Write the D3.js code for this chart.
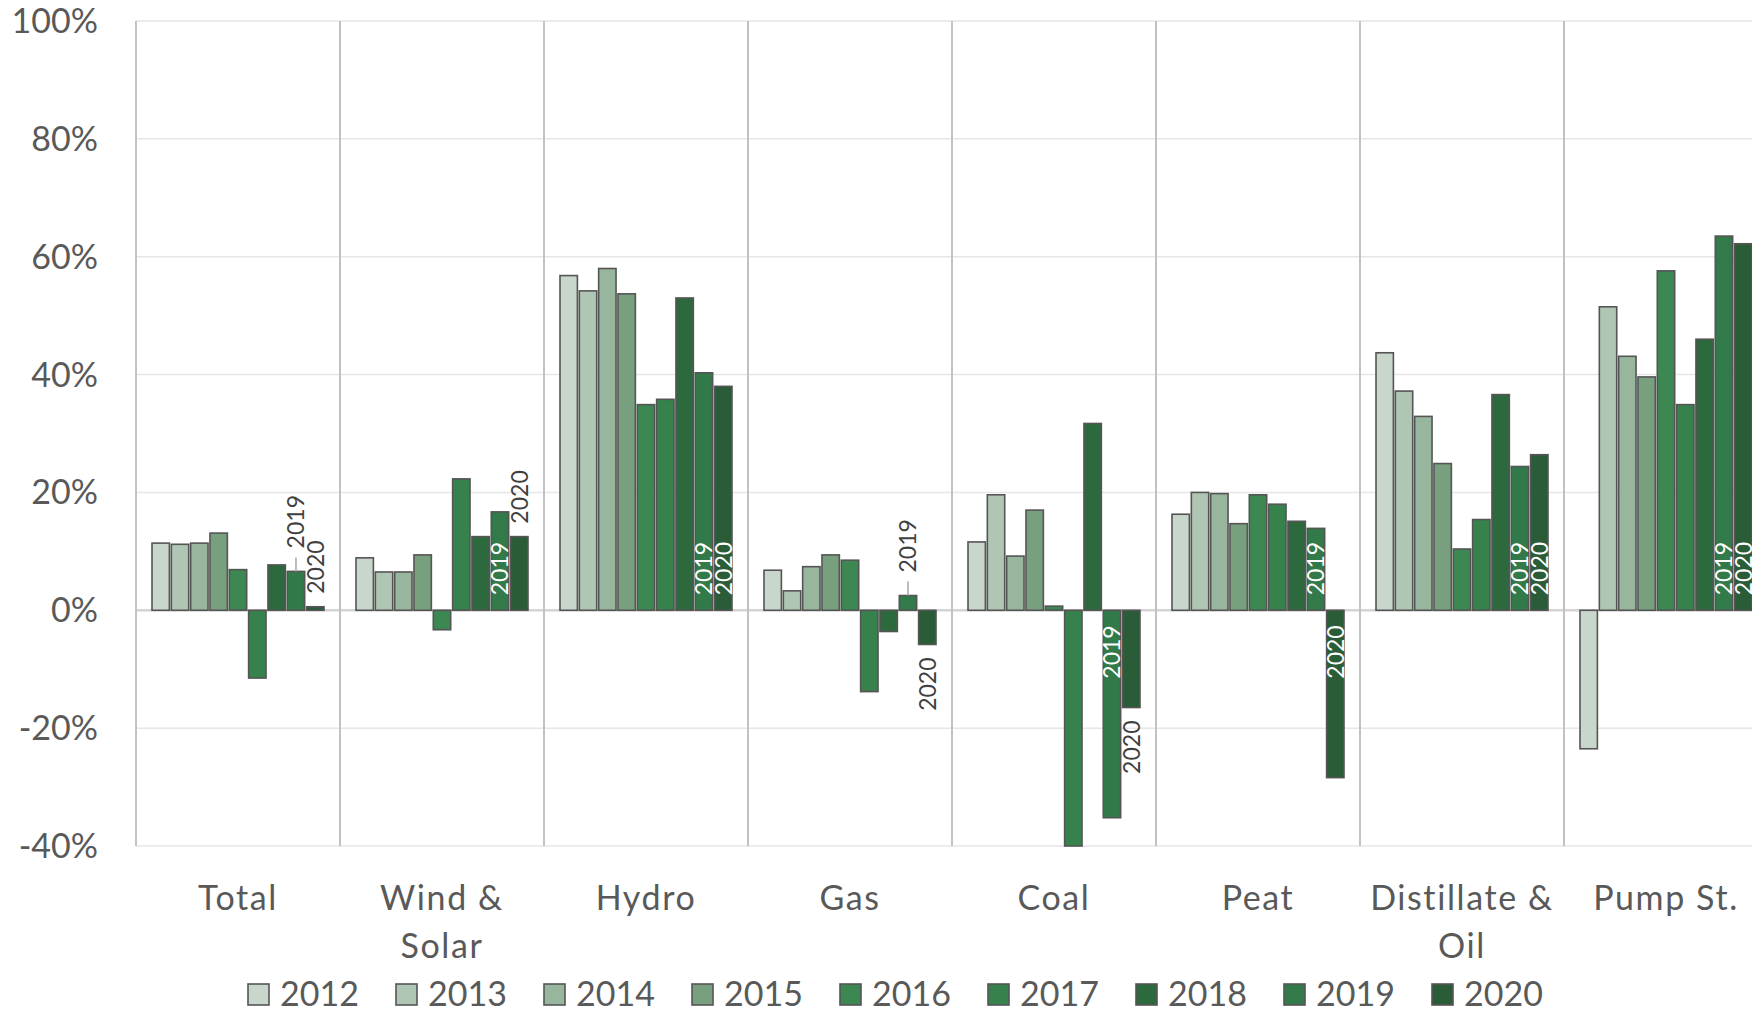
<!DOCTYPE html>
<html>
<head>
<meta charset="utf-8">
<script src="https://cdn.jsdelivr.net/npm/d3@7"></script>
<style>
  html, body { margin: 0; padding: 0; background: #fff; }
  svg { display: block; font-family: Lato, "Open Sans", sans-serif; }
</style>
</head>
<body>
<div id="chart"></div>
<script>
const categories = ['Total', 'Wind & Solar', 'Hydro', 'Gas', 'Coal', 'Peat', 'Distillate & Oil', 'Pump St.'];
const years = ['2012', '2013', '2014', '2015', '2016', '2017', '2018', '2019', '2020'];
const yTicks = [-40, -20, 0, 20, 40, 60, 80, 100];

// % change per category, one array per year
const v2012 = [11.4, 8.9, 56.8, 6.8, 11.6, 16.3, 43.7, -23.5];
const v2013 = [11.2, 6.5, 54.2, 3.3, 19.6, 20.0, 37.2, 51.5];
const v2014 = [11.4, 6.5, 58.0, 7.4, 9.2, 19.8, 32.9, 43.1];
const v2015 = [13.1, 9.4, 53.7, 9.4, 17.0, 14.7, 24.9, 39.6];
const v2016 = [6.9, -3.3, 34.9, 8.5, 0.7, 19.6, 10.4, 57.6];
const v2017 = [-11.5, 22.3, 35.8, -13.8, -44.0, 18.0, 15.4, 34.9];
const v2018 = [7.7, 12.5, 53.0, -3.6, 31.7, 15.1, 36.6, 46.0];
const v2019 = [6.6, 16.7, 40.3, 2.5, -35.2, 13.9, 24.4, 63.5];
const v2020 = [0.6, 12.5, 38.0, -5.8, -16.5, -28.4, 26.4, 62.2];
const series = [v2012, v2013, v2014, v2015, v2016, v2017, v2018, v2019, v2020];

const colors = ['#c9d6cc', '#b0c6b4', '#98b59d', '#78a07f', '#3c8752', '#37814d', '#2c6a3d', '#327a49', '#2a5d37'];

// which years get a data label, and where it sits per category
const labelYears = ['2019', '2020'];
const labelModes = [
  ['leader', 'outside'],
  ['inside', 'outside'],
  ['inside', 'inside'],
  ['leader', 'outside'],
  ['inside', 'outside'],
  ['inside', 'inside'],
  ['inside', 'inside'],
  ['inside', 'inside'],
];

const width = 1752;
const height = 1013;
const plot = { left: 136, top: 21, bottom: 846, band: 204 };

const svg = d3.select('#chart')
  .append('svg')
  .attr('width', width)
  .attr('height', height);

svg.append('rect').attr('width', width).attr('height', height).attr('fill', '#fff');

const x0 = d3.scaleBand()
  .domain(categories)
  .range([plot.left, plot.left + plot.band * categories.length]);

const x1 = d3.scaleBand()
  .domain(years)
  .range([16, plot.band - 16])
  .paddingInner(0.1);

const y = d3.scaleLinear()
  .domain([-40, 100])
  .range([plot.bottom, plot.top])
  .clamp(true);

// horizontal gridlines
svg.append('g')
  .selectAll('line')
  .data(yTicks)
  .join('line')
  .attr('x1', plot.left)
  .attr('x2', width)
  .attr('y1', (d) => y(d))
  .attr('y2', (d) => y(d))
  .attr('stroke', (d) => (d === 0 ? '#d4d4d4' : '#e6e6e6'))
  .attr('stroke-width', (d) => (d === 0 ? 2.5 : 1.5));

// category separators
const bounds = categories.map((c) => x0(c)).concat([x0(categories[categories.length - 1]) + x0.bandwidth()]);
svg.append('g')
  .selectAll('line')
  .data(bounds)
  .join('line')
  .attr('x1', (d) => d)
  .attr('x2', (d) => d)
  .attr('y1', plot.top)
  .attr('y2', plot.bottom)
  .attr('stroke', '#c2c2c2')
  .attr('stroke-width', 2);

// y axis labels
const yAxis = svg.append('g')
  .attr('transform', `translate(${plot.left - 38},0)`)
  .call(d3.axisLeft(y).tickValues(yTicks).tickSize(0).tickFormat((d) => `${d}%`));
yAxis.select('.domain').remove();
yAxis.selectAll('text')
  .attr('x', 0)
  .attr('dy', '0.34em')
  .attr('font-family', 'Lato, sans-serif')
  .attr('font-size', 34)
  .attr('fill', '#595959');

// bars
const groups = svg.append('g')
  .selectAll('g')
  .data(categories)
  .join('g')
  .attr('transform', (c) => `translate(${x0(c)},0)`);

groups.selectAll('rect')
  .data((c, ci) => years.map((yr, i) => ({ yr, i, value: series[i][ci] })))
  .join('rect')
  .attr('x', (d) => x1(d.yr))
  .attr('width', x1.bandwidth())
  .attr('y', (d) => y(Math.max(0, d.value)))
  .attr('height', (d) => Math.abs(y(d.value) - y(0)))
  .attr('fill', (d) => colors[d.i])
  .attr('stroke', '#555')
  .attr('stroke-width', 1.6);

// data labels for 2019 / 2020
groups.each(function (c, ci) {
  const g = d3.select(this);
  labelYears.forEach((yr, li) => {
    const value = series[years.indexOf(yr)][ci];
    const mode = labelModes[ci][li];
    const cx = x1(yr) + x1.bandwidth() / 2;
    const pos = value >= 0;
    let ly;
    if (mode === 'inside') {
      ly = pos ? y(0) - 15 : y(0) + 15;
    } else {
      const gap = mode === 'leader' ? 23 : 13;
      ly = pos ? y(value) - gap : y(value) + gap;
    }
    if (mode === 'leader') {
      g.append('line')
        .attr('x1', cx)
        .attr('x2', cx)
        .attr('y1', y(value))
        .attr('y2', y(value) - 14)
        .attr('stroke', '#a6a6a6')
        .attr('stroke-width', 1.5);
    }
    g.append('text')
      .attr('transform', `translate(${cx},${ly}) rotate(-90)`)
      .attr('text-anchor', pos ? 'start' : 'end')
      .attr('dy', '0.36em')
      .attr('font-size', 23)
      .attr('fill', mode === 'inside' ? '#ffffff' : '#404040')
      .text(yr);
  });
});

// category labels, wrapped after "&"
const catLabels = svg.append('g')
  .selectAll('text')
  .data(categories)
  .join('text')
  .attr('x', (c) => x0(c) + x0.bandwidth() / 2)
  .attr('y', 910)
  .attr('text-anchor', 'middle')
  .attr('font-size', 34)
  .attr('letter-spacing', 1.6)
  .attr('fill', '#595959');

catLabels.selectAll('tspan')
  .data((c) => c.split(/(?<=&) /))
  .join('tspan')
  .attr('x', function () { return d3.select(this.parentNode).attr('x'); })
  .attr('dy', (d, i) => (i === 0 ? 0 : 48))
  .text((d) => d);

// legend
const lx = d3.scaleLinear().domain([0, years.length - 1]).range([248, 248 + 148 * (years.length - 1)]);
const legend = svg.append('g')
  .selectAll('g')
  .data(years)
  .join('g')
  .attr('transform', (d, i) => `translate(${lx(i)},984)`);

legend.append('rect')
  .attr('width', 21)
  .attr('height', 21)
  .attr('fill', (d, i) => colors[i])
  .attr('stroke', '#555')
  .attr('stroke-width', 1.6);

legend.append('text')
  .attr('x', 32)
  .attr('y', 22)
  .attr('font-size', 34)
  .attr('fill', '#595959')
  .text((d) => d);
</script>
</body>
</html>
